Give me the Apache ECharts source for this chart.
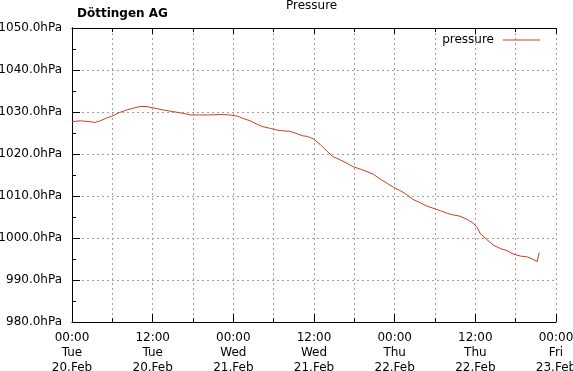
<!DOCTYPE html>
<html>
<head>
<meta charset="utf-8">
<script src="https://cdn.jsdelivr.net/npm/echarts@6/dist/echarts.min.js"></script>
<style>
  html, body { margin: 0; padding: 0; background: #fff; }
  #chart { width: 573px; height: 371px; }
</style>
</head>
<body>
<div id="chart"></div>
<script>
// hours since Tue 20.Feb 00:00
var hours = [0, 1.2, 2.7, 3.4, 4.2, 5.2, 6.1, 7.1, 8.2, 9.1, 10.1, 11.2, 11.6, 12.4, 13.5,
  15.0, 16.5, 17.6, 19.0, 20.5, 22.0, 23.5, 24.6, 25.4, 26.5, 27.5, 28.4, 29.5, 30.5,
  31.4, 32.4, 33.5, 34.4, 35.0, 35.9, 36.9, 37.9, 38.8, 39.9, 40.9, 41.8, 42.9, 43.9,
  44.8, 45.8, 46.9, 47.8, 48.8, 49.9, 50.7, 51.8, 52.8, 53.7, 54.8, 55.8, 56.7, 57.7,
  58.8, 59.7, 60.3, 60.7, 61.8, 62.7, 63.7, 64.7, 65.6, 66.7, 67.7, 68.6, 69.2, 69.5];
var pressure = [1027.7, 1027.9, 1027.7, 1027.5, 1027.9, 1028.6, 1029.1, 1029.9, 1030.5, 1030.9, 1031.3, 1031.3, 1031.1, 1030.9, 1030.5,
  1030.1, 1029.7, 1029.3, 1029.3, 1029.3, 1029.4, 1029.3, 1029.0, 1028.5, 1027.9, 1027.1, 1026.5, 1026.1, 1025.7,
  1025.5, 1025.4, 1024.8, 1024.3, 1024.2, 1023.6, 1022.3, 1020.7, 1019.4, 1018.6, 1017.8, 1017.0, 1016.4, 1015.8,
  1015.2, 1014.1, 1013.0, 1012.1, 1011.3, 1010.2, 1009.2, 1008.4, 1007.6, 1007.1, 1006.5, 1005.9, 1005.5, 1005.2,
  1004.4, 1003.5, 1002.5, 1001.1, 999.5, 998.3, 997.5, 997.0, 996.2, 995.7, 995.5, 994.9, 994.4, 996.5];

var xTickLabels = ['00:00\nTue\n20.Feb', '12:00\nTue\n20.Feb', '00:00\nWed\n21.Feb', '12:00\nWed\n21.Feb',
  '00:00\nThu\n22.Feb', '12:00\nThu\n22.Feb', '00:00\nFri\n23.Feb'];

var font = 'DejaVu Sans';
var gridLine = { show: true, lineStyle: { color: '#a0a0a0', type: [2, 3], width: 1 } };

var chart = echarts.init(document.getElementById('chart'));
var option = {
  animation: false,
  backgroundColor: '#fff',
  title: [
    { text: 'Pressure', left: 286, top: 0, padding: 0, textStyle: { fontFamily: font, fontSize: 12, fontWeight: 'normal', color: '#000' } },
    { text: 'Döttingen AG', left: 77, top: 8, padding: 0, textStyle: { fontFamily: font, fontSize: 12, fontWeight: 'bold', color: '#000' } }
  ],
  legend: {
    right: 33, top: 34, align: 'right', padding: 0,
    icon: 'rect', itemWidth: 37, itemHeight: 1,
    textStyle: { fontFamily: font, fontSize: 12, color: '#000', padding: [0, 4, 0, 0] },
    data: ['pressure']
  },
  grid: { left: 72, right: 17, top: 28, bottom: 49, containLabel: false, outerBoundsMode: 'none' },
  xAxis: [{
    type: 'value', min: 0, max: 72, interval: 12,
    axisLine: { lineStyle: { color: '#000', width: 1 } },
    axisTick: { inside: true, length: 8, lineStyle: { color: '#000' } },
    minorTick: { show: true, splitNumber: 2, length: 4, lineStyle: { color: '#000' } },
    splitLine: gridLine,
    minorSplitLine: gridLine,
    axisLabel: {
      fontFamily: font, fontSize: 12, color: '#000', lineHeight: 15, margin: 8,
      formatter: function (v) { return xTickLabels[Math.round(v / 12)] || ''; }
    }
  }, {
    type: 'value', min: 0, max: 72, interval: 12, position: 'top',
    axisLine: { show: true, lineStyle: { color: '#000', width: 1 } },
    axisTick: { inside: true, length: 6, lineStyle: { color: '#000' } },
    minorTick: { show: true, splitNumber: 2, length: 4, lineStyle: { color: '#000' } },
    splitLine: { show: false }, axisLabel: { show: false }
  }],
  yAxis: [{
    type: 'value', min: 980, max: 1050, interval: 10,
    axisLine: { show: true, lineStyle: { color: '#000', width: 1 } },
    axisTick: { show: true, inside: true, length: 8, lineStyle: { color: '#000' } },
    minorTick: { show: true, splitNumber: 2, length: 4, lineStyle: { color: '#000' } },
    splitLine: gridLine,
    axisLabel: {
      fontFamily: font, fontSize: 12, color: '#000', margin: 10,
      formatter: function (v) { return v.toFixed(1) + 'hPa'; }
    }
  }, {
    type: 'value', min: 980, max: 1050, interval: 10, position: 'right',
    axisLine: { show: true, lineStyle: { color: '#000', width: 1 } },
    axisTick: { show: false }, minorTick: { show: false },
    splitLine: { show: false }, axisLabel: { show: false }
  }],
  series: [{
    name: 'pressure', type: 'line', showSymbol: false, symbol: 'none',
    lineStyle: { color: '#c8401c', width: 1 }, itemStyle: { color: '#c8401c' },
    data: hours.map(function (h, i) { return [h, pressure[i]]; })
  }]
};
chart.setOption(option);
</script>
</body>
</html>
